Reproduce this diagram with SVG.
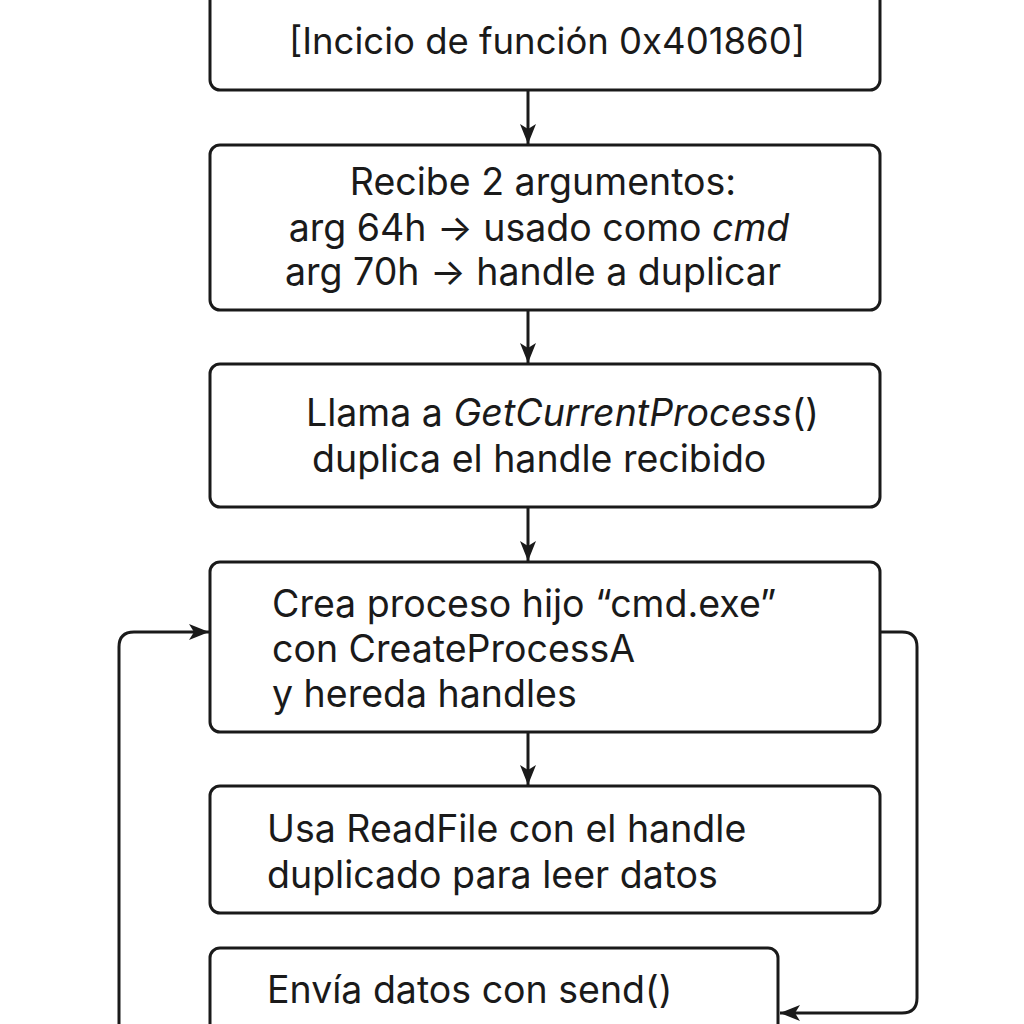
<svg xmlns="http://www.w3.org/2000/svg" width="1024" height="1024" viewBox="0 0 1024 1024">
<defs>
<style>
.box{fill:#fff;stroke:#1a1a1a;stroke-width:3}
.t{font-family:Inter,"Noto Sans","DejaVu Sans",sans-serif;font-size:37.5px;fill:#1a1a1a}
.c{text-anchor:middle}
.ln{fill:none;stroke:#1a1a1a;stroke-width:3}
</style>
<marker id="ah2" viewBox="0 0 20 20" refX="20" refY="10" markerWidth="20" markerHeight="20" markerUnits="userSpaceOnUse" orient="auto">
<path d="M0,2 L20,10 L0,18 L5,10 z" fill="#1a1a1a"/>
</marker>
</defs>
<rect width="1024" height="1024" fill="#fff"/>
<g id="connectors">
<line class="ln" x1="528" y1="91" x2="528" y2="144" marker-end="url(#ah2)"/>
<line class="ln" x1="528" y1="311" x2="528" y2="363" marker-end="url(#ah2)"/>
<line class="ln" x1="528" y1="508" x2="528" y2="561" marker-end="url(#ah2)"/>
<line class="ln" x1="528" y1="733" x2="528" y2="785" marker-end="url(#ah2)"/>
<path class="ln" d="M119,1030 L119,647 Q119,632 134,632 L209,632" marker-end="url(#ah2)"/>
<path class="ln" d="M881,632 L902,632 Q917,632 917,647 L917,998 Q917,1013 902,1013 L780,1013" marker-end="url(#ah2)"/>
</g>
<g id="n1">
<rect class="box" x="210" y="-20" width="670" height="110" rx="10"/>
<text class="t c" x="547" y="54" style="font-size:36.5px">[Incicio de función 0x401860]</text>
</g>
<g id="n2">
<rect class="box" x="210" y="145" width="670" height="165" rx="10"/>
<text class="t c" x="543" y="195">Recibe 2 argumentos:</text>
<text class="t c" x="539" y="241">arg 64h → usado como <tspan font-style="italic">cmd</tspan></text>
<text class="t c" x="533" y="285">arg 70h → handle a duplicar</text>
</g>
<g id="n3">
<rect class="box" x="210" y="364" width="670" height="143" rx="10"/>
<text class="t" x="306" y="426">Llama a <tspan font-style="italic">GetCurrentProcess</tspan>()</text>
<text class="t" x="312" y="472">duplica el handle recibido</text>
</g>
<g id="n4">
<rect class="box" x="210" y="562" width="670" height="170" rx="10"/>
<text class="t" x="272" y="617">Crea proceso hijo “cmd.exe”</text>
<text class="t" x="272" y="662">con CreateProcessA</text>
<text class="t" x="272" y="707">y hereda handles</text>
</g>
<g id="n5">
<rect class="box" x="210" y="786" width="670" height="127" rx="10"/>
<text class="t" x="267" y="842">Usa ReadFile con el handle</text>
<text class="t" x="267" y="888">duplicado para leer datos</text>
</g>
<g id="n6">
<rect class="box" x="210" y="948" width="568" height="110" rx="10"/>
<text class="t" x="267" y="1003">Envía datos con send()</text>
</g>
</svg>
